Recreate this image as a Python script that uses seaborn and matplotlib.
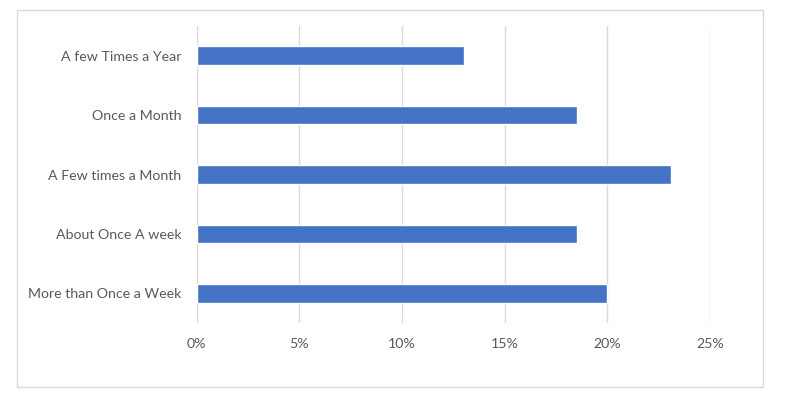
import matplotlib
matplotlib.use("Agg")
import matplotlib.pyplot as plt
import seaborn as sns
import pandas as pd
from matplotlib.patches import Rectangle
from matplotlib.ticker import FuncFormatter

# categories top to bottom, share of respondents (%)
categories = [
    "A few Times a Year",
    "Once a Month",
    "A Few times a Month",
    "About Once A week",
    "More than Once a Week",
]
shares = [13.0, 18.5, 23.1, 18.5, 20.0]
x_ticks = [0, 5, 10, 15, 20, 25]

df = pd.DataFrame({"category": categories, "share": shares})

sns.set_theme(style="white")
plt.rcParams["font.family"] = ["Lato", "DejaVu Sans"]

fig = plt.figure(figsize=(8, 4.12), dpi=100)
ax = fig.add_axes([0.246, 0.216, 0.6415, 0.7209])

sns.barplot(data=df, x="share", y="category", order=categories,
            color="#4472C4", saturation=1, width=0.31, ax=ax)

ax.set_xlim(0, 25)
ax.set_ylim(4.5, -0.5)
ax.set_xticks(x_ticks)
ax.xaxis.set_major_formatter(FuncFormatter(lambda v, _: f"{v:.0f}%"))
ax.grid(axis="x", color="#d9d9d9", linewidth=1)
ax.set_axisbelow(True)
for s in ax.spines.values():
    s.set_visible(False)
ax.set_xlabel("")
ax.set_ylabel("")
ax.tick_params(axis="both", length=0, colors="#595959", labelsize=10.2)
ax.tick_params(axis="x", pad=11)
ax.tick_params(axis="y", pad=11)

# chart area frame
fig.patches.append(Rectangle((0.02125, 0.0607), 0.9325, 0.915,
                             transform=fig.transFigure, fill=False,
                             edgecolor="#d9d9d9", linewidth=1))

plt.savefig("out.png", dpi=100)
